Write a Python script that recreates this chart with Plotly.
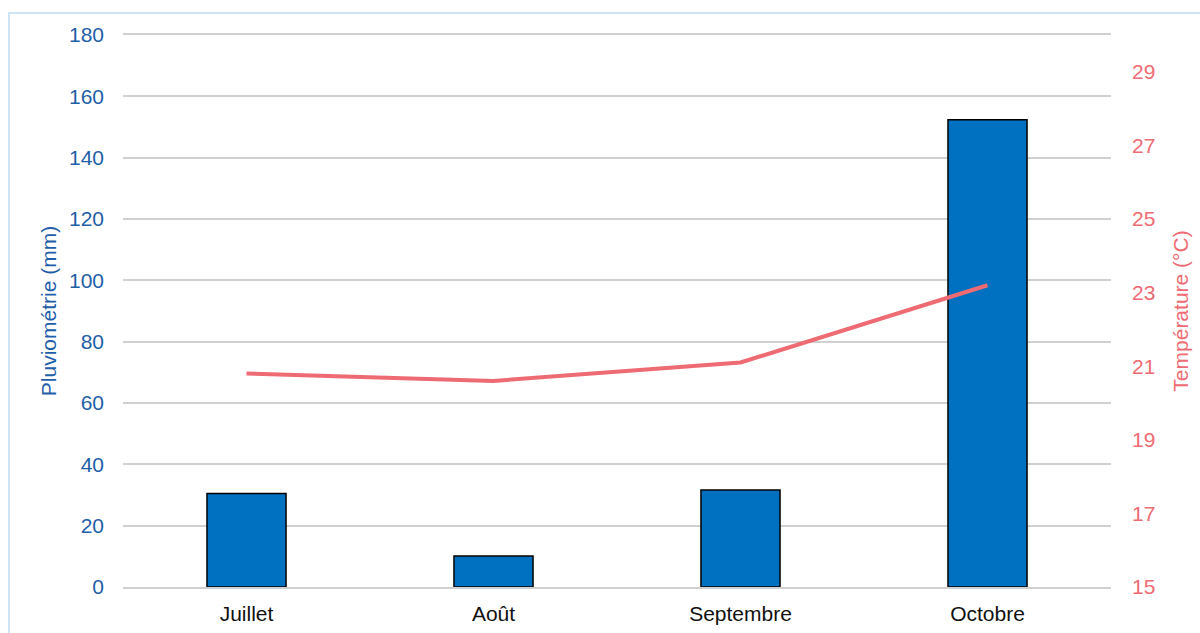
import plotly.graph_objects as go

months = ["Juillet", "Août", "Septembre", "Octobre"]
rain_mm = [30.5, 10.1, 31.6, 152.4]
temp_c = [20.8, 20.6, 21.1, 23.2]
rain_ticks = list(range(0, 181, 20))
temp_ticks = list(range(15, 30, 2))

BLUE_TXT = "#1f5ea8"
RED = "#ee6b73"
GRID = "#d0d0d0"
FONT = "Liberation Sans, Arial, Helvetica, sans-serif"

fig = go.Figure()
fig.add_trace(go.Bar(
    x=months, y=rain_mm, name="Pluviométrie",
    marker=dict(color="#0070c0", line=dict(color="#000000", width=1.5)),
    width=0.32, yaxis="y",
))
fig.add_trace(go.Scatter(
    x=months, y=temp_c, name="Température", mode="lines",
    line=dict(color=RED, width=4), yaxis="y2",
))

fig.update_layout(
    width=1200, height=633,
    margin=dict(l=123, r=89, t=35, b=46),
    paper_bgcolor="white", plot_bgcolor="white",
    showlegend=False,
    font=dict(family=FONT, size=21),
    xaxis=dict(
        automargin=False,
        showgrid=False, zeroline=False,
        showline=True, mirror=True, linecolor=GRID, linewidth=1.5,
        tickfont=dict(color="#111111", size=21),
        ticks="", ticklabelstandoff=7,
    ),
    yaxis=dict(
        automargin=False,
        range=[0, 180], tickvals=rain_ticks,
        showgrid=True, gridcolor=GRID, gridwidth=1.5,
        zeroline=False, showline=False,
        tickfont=dict(color=BLUE_TXT, size=21),
        ticklabelstandoff=18,
        title=dict(text="Pluviométrie (mm)", font=dict(color=BLUE_TXT, size=21), standoff=6),
    ),
    yaxis2=dict(
        automargin=False,
        overlaying="y", side="right",
        range=[15, 30], tickvals=temp_ticks,
        showgrid=False, zeroline=False, showline=False,
        tickfont=dict(color=RED, size=21),
        ticklabelstandoff=20,
        title=dict(text="Température (°C)", font=dict(color=RED, size=21), standoff=18),
    ),
    shapes=[dict(
        type="rect", xref="paper", yref="paper",
        x0=-0.1154, x1=1.1, y0=-0.1, y1=1.0399,
        line=dict(color="#cfe3f7", width=2), fillcolor="rgba(0,0,0,0)", layer="below",
    )],
)

fig.write_html("out.html")
